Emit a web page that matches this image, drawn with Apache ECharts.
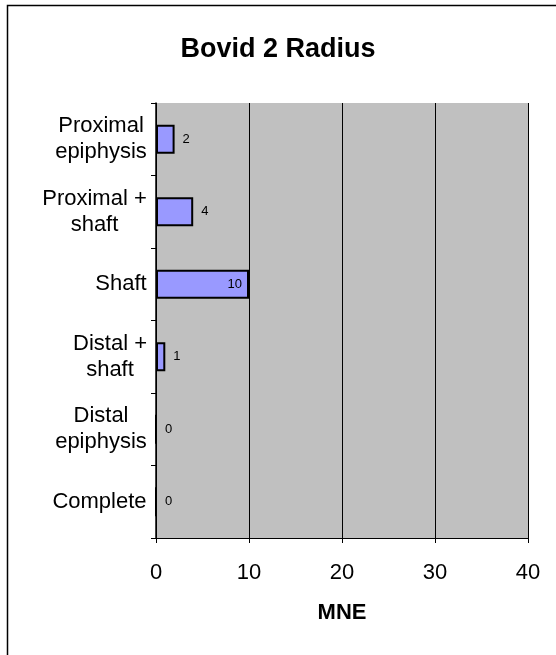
<!DOCTYPE html>
<html>
<head>
<meta charset="utf-8">
<script src="https://cdn.jsdelivr.net/npm/echarts@6/dist/echarts.min.js"></script>
<style>
  html, body { margin: 0; padding: 0; background: #fff; }
  #chart { width: 556px; height: 655px; }
</style>
</head>
<body>
<div id="chart"></div>
<script>
// Bone portions (top to bottom) and their MNE counts
const portions = ['Proximal\nepiphysis', 'Proximal +\nshaft', 'Shaft', 'Distal +\nshaft', 'Distal\nepiphysis', 'Complete'];
const mne = [2, 4, 10, 1, 0, 0];
const mneTicks = [0, 10, 20, 30, 40];

const FONT = '"Liberation Sans", Arial, sans-serif';
const LABEL_SIZE = 22;

// Multi-line category labels: lines are centred within their own block,
// and the block as a whole sits right-aligned against the axis.
const measure = document.createElement('canvas').getContext('2d');
measure.font = LABEL_SIZE + 'px ' + FONT;
const rich = {};
portions.forEach((p, i) => {
  const w = Math.max(...p.split('\n').map(l => measure.measureText(l).width));
  rich['c' + i] = { width: Math.ceil(w), align: 'center', fontSize: LABEL_SIZE, fontFamily: FONT, color: '#000', lineHeight: 26 };
});

const chart = echarts.init(document.getElementById('chart'), null, { renderer: 'canvas' });
chart.setOption({
  animation: false,
  backgroundColor: '#fff',
  title: {
    text: 'Bovid 2 Radius',
    left: 'center', top: 31,
    textStyle: { fontFamily: FONT, fontSize: 27, fontWeight: 'bold', color: '#000' }
  },
  graphic: [{
    type: 'rect',
    shape: { x: 7.5, y: 5.5, width: 620, height: 720 },
    style: { fill: 'none', stroke: '#000', lineWidth: 1.5 },
    silent: true
  }],
  grid: {
    left: 156, right: 28, top: 103, bottom: 117,
    show: true, backgroundColor: '#c0c0c0', borderWidth: 0
  },
  xAxis: {
    type: 'value', min: 0, max: 40, interval: 10,
    name: 'MNE', nameLocation: 'middle', nameGap: 64,
    nameTextStyle: { fontFamily: FONT, fontSize: 22, fontWeight: 'bold', color: '#000' },
    axisLine: { show: true, lineStyle: { color: '#000', width: 1 } },
    axisTick: { show: true, length: 5, lineStyle: { color: '#000' } },
    axisLabel: {
      margin: 24, fontFamily: FONT, fontSize: 22, color: '#000',
      formatter: v => mneTicks.includes(v) ? String(v) : ''
    },
    splitLine: { show: true, lineStyle: { color: '#000', width: 1 } }
  },
  yAxis: {
    type: 'category', data: portions, inverse: true,
    axisLine: { show: true, lineStyle: { color: '#000', width: 1.5 } },
    axisTick: { show: true, length: 5, lineStyle: { color: '#000' } },
    axisLabel: {
      margin: 9, align: 'right', fontFamily: FONT, fontSize: LABEL_SIZE, color: '#000',
      formatter: (val, idx) => val.split('\n').map(l => '{c' + idx + '|' + l + '}').join('\n'),
      rich: rich
    },
    splitLine: { show: false }
  },
  series: [{
    type: 'bar',
    barWidth: '40%',
    data: mne.map(v => v >= 10
      ? { value: v, label: { position: 'insideRight', distance: 7 } }
      : { value: v }),
    itemStyle: { color: '#9999ff', borderColor: '#000', borderWidth: 2 },
    label: {
      show: true, position: 'right', distance: 8,
      fontFamily: FONT, fontSize: 13, color: '#000'
    }
  }]
});
</script>
</body>
</html>
